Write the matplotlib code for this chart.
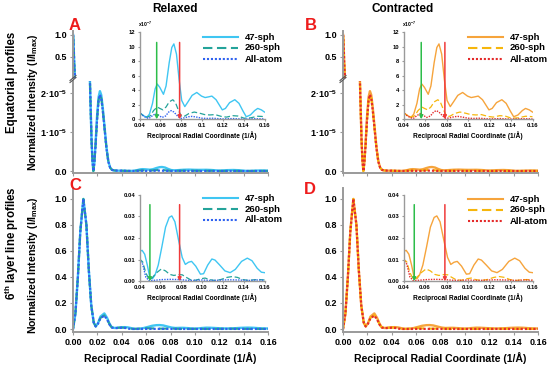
import matplotlib
matplotlib.use('Agg')
import matplotlib.pyplot as plt
from matplotlib.lines import Line2D

plt.rcParams['font.family'] = ['Liberation Sans', 'DejaVu Sans']
plt.rcParams['font.weight'] = 'bold'
plt.rcParams['mathtext.fontset'] = 'custom'
plt.rcParams['mathtext.rm'] = 'Liberation Sans:bold'
plt.rcParams['mathtext.it'] = 'Liberation Sans:bold'
plt.rcParams['mathtext.bf'] = 'Liberation Sans:bold'

# ---------------- data ----------------
series_names = ['47-sph', '260-sph', 'All-atom']

# Equatorial profile, low-q part (absolute normalized intensity)
eq_low_x = [0.000, 0.002, 0.004, 0.006, 0.008, 0.010, 0.012, 0.013, 0.0135, 0.0139,
            0.0145, 0.0152, 0.0160, 0.0167, 0.0175, 0.0185, 0.0197, 0.0210, 0.0221,
            0.0232, 0.0245, 0.0260, 0.0275, 0.0290, 0.0305, 0.0320, 0.0340, 0.0370]
eq_low_47 = [1.0, 0.8, 0.45, 0.17, 0.04, 5e-3, 4e-4, 1.2e-4, 6e-5, 2.3e-5,
             1.6e-5, 8e-6, 2.5e-6, 0.0, 2e-6, 7e-6, 1.4e-5, 1.9e-5, 2.05e-5,
             1.95e-5, 1.6e-5, 1.1e-5, 6e-6, 2.5e-6, 9e-7, 3e-7, 1.5e-7, 1.0e-7]
eq_low_260 = [1.0, 0.8, 0.45, 0.17, 0.04, 5e-3, 4e-4, 1.2e-4, 6e-5, 2.3e-5,
              1.6e-5, 8e-6, 2.5e-6, 0.0, 2e-6, 6.5e-6, 1.3e-5, 1.82e-5, 1.96e-5,
              1.87e-5, 1.53e-5, 1.05e-5, 5.7e-6, 2.4e-6, 8.5e-7, 3e-7, 1.5e-7, 1.0e-7]
eq_low_aa = [1.0, 0.8, 0.45, 0.17, 0.04, 5e-3, 4e-4, 1.2e-4, 6e-5, 2.3e-5,
             1.6e-5, 8e-6, 2.5e-6, 0.0, 2e-6, 6.5e-6, 1.3e-5, 1.82e-5, 1.96e-5,
             1.87e-5, 1.53e-5, 1.05e-5, 5.7e-6, 2.4e-6, 8.5e-7, 3e-7, 1.5e-7, 1.0e-7]

# Equatorial profile, high-q part (units of 1e-7)
eq_hi_x_47 = [0.040, 0.0415, 0.0445, 0.047, 0.0495, 0.0525, 0.055, 0.057, 0.0595, 0.063,
              0.0655, 0.0685, 0.071, 0.073, 0.0755, 0.078, 0.0805, 0.0835, 0.0865, 0.0905,
              0.095, 0.0995, 0.103, 0.1065, 0.1095, 0.1135, 0.1195, 0.1225, 0.1265, 0.1315,
              0.1355, 0.1395, 0.1425, 0.1465, 0.1505, 0.1535, 0.157, 0.160]
eq_hi_y_47 = [0.92, 0.75, 0.45, 0.28, 0.7, 2.2, 4.2, 4.87, 4.4, 3.45,
              4.6, 7.8, 9.9, 10.4, 9.0, 5.5, 2.6, 1.75, 2.4, 3.3,
              3.7, 3.2, 3.0, 3.1, 3.2, 2.7, 1.3, 1.5, 2.3, 2.7,
              2.2, 1.1, 0.35, 0.6, 1.2, 1.5, 1.3, 1.0]
eq_hi_x_260 = [0.040, 0.0415, 0.0445, 0.0475, 0.0505, 0.0535, 0.057, 0.0595, 0.0625, 0.0655,
               0.0685, 0.072, 0.0745, 0.0775, 0.0805, 0.0835, 0.0875, 0.0925, 0.0975, 0.1025,
               0.1075, 0.1125, 0.1185, 0.1235, 0.1295, 0.1345, 0.1405, 0.1465, 0.1535, 0.157, 0.160]
eq_hi_y_260 = [0.95, 0.75, 0.4, 0.3, 0.5, 1.2, 1.7, 1.5, 1.3, 1.7,
               2.4, 2.7, 2.3, 1.2, 0.35, 0.45, 0.8, 1.0, 0.85, 0.65,
               0.6, 0.65, 0.4, 0.3, 0.5, 0.45, 0.15, 0.2, 0.42, 0.4, 0.35]
eq_hi_x_aa = [0.040, 0.0425, 0.046, 0.049, 0.052, 0.0555, 0.058, 0.0615, 0.065, 0.068,
              0.0705, 0.073, 0.0765, 0.0795, 0.083, 0.087, 0.0905, 0.095, 0.100, 0.105,
              0.110, 0.115, 0.120, 0.125, 0.130, 0.135, 0.140, 0.145, 0.150, 0.155, 0.160]
eq_hi_y_aa = [0.9, 0.6, 0.25, 0.1, 0.45, 0.8, 0.6, 0.25, 0.45, 1.0,
              1.2, 1.0, 0.45, 0.12, 0.2, 0.35, 0.4, 0.3, 0.15, 0.12,
              0.15, 0.1, 0.05, 0.08, 0.1, 0.06, 0.03, 0.05, 0.08, 0.07, 0.05]

# 6th layer line profile, low-q part
l6_low_x = [0.000, 0.002, 0.004, 0.006, 0.0085, 0.011, 0.013, 0.015, 0.017, 0.0186,
            0.0205, 0.0225, 0.0257, 0.028, 0.030, 0.0317, 0.034, 0.037]
l6_low_47 = [0.0, 0.12, 0.40, 0.75, 1.0, 0.80, 0.45, 0.18, 0.05, 0.02,
             0.045, 0.095, 0.12, 0.085, 0.04, 0.015, 0.008, 0.011]
l6_low_260 = [0.0, 0.12, 0.40, 0.75, 1.0, 0.80, 0.45, 0.18, 0.05, 0.02,
              0.04, 0.085, 0.105, 0.075, 0.035, 0.013, 0.007, 0.009]
l6_low_aa = [0.0, 0.12, 0.40, 0.75, 1.0, 0.80, 0.45, 0.18, 0.05, 0.02,
             0.04, 0.083, 0.103, 0.073, 0.034, 0.012, 0.006, 0.008]

# 6th layer line profile, high-q part
l6_hi_x_47 = [0.040, 0.0425, 0.045, 0.0475, 0.050, 0.0525, 0.055, 0.058, 0.0615, 0.065,
              0.0685, 0.071, 0.074, 0.0775, 0.081, 0.084, 0.087, 0.090, 0.094, 0.0985,
              0.1015, 0.1055, 0.1095, 0.1125, 0.117, 0.122, 0.127, 0.132, 0.138, 0.1435,
              0.148, 0.153, 0.157, 0.160]
l6_hi_y_47 = [0.0138, 0.0143, 0.0125, 0.0075, 0.0015, 0.0012, 0.003, 0.0075, 0.016, 0.025,
              0.0295, 0.0302, 0.0275, 0.019, 0.011, 0.0078, 0.0088, 0.0092, 0.007, 0.0033,
              0.0035, 0.0075, 0.0103, 0.0098, 0.0075, 0.0048, 0.0040, 0.0055, 0.0092, 0.0107,
              0.0095, 0.006, 0.0042, 0.0040]
l6_hi_x_260 = [0.040, 0.043, 0.046, 0.049, 0.052, 0.056, 0.061, 0.065, 0.069, 0.073,
               0.077, 0.081, 0.085, 0.089, 0.094, 0.099, 0.103, 0.107, 0.112, 0.118,
               0.124, 0.129, 0.134, 0.139, 0.145, 0.150, 0.155, 0.160]
l6_hi_y_260 = [0.0103, 0.009, 0.004, 0.001, 0.0015, 0.0038, 0.0057, 0.0048, 0.0032, 0.0027,
               0.0031, 0.003, 0.0018, 0.0007, 0.0005, 0.0012, 0.0015, 0.0008, 0.0004, 0.0008,
               0.0018, 0.0022, 0.0018, 0.0008, 0.0004, 0.0007, 0.0008, 0.0006]
l6_hi_x_aa = [0.040, 0.043, 0.046, 0.049, 0.055, 0.062, 0.070, 0.078, 0.085, 0.092,
              0.100, 0.108, 0.116, 0.125, 0.135, 0.145, 0.152, 0.160]
l6_hi_y_aa = [0.0098, 0.008, 0.002, 0.0003, 0.0005, 0.0008, 0.0009, 0.0008, 0.0005, 0.0004,
              0.0006, 0.0004, 0.0005, 0.0007, 0.0006, 0.0004, 0.0006, 0.0005]

# arrow positions (1/Å)
eq_arrows = [0.0565, 0.0785]
l6_arrows = [0.050, 0.0785]

eq_yticks_top = [0.5, 1.0]
eq_yticks_low = [0.0, 1e-5, 2e-5]
eq_yticklabels_low = ['0.0', r'1·10$^{-5}$', r'2·10$^{-5}$']
main_xticks = [0.00, 0.02, 0.04, 0.06, 0.08, 0.10, 0.12, 0.14, 0.16]
main_xticklabels = ['0.00', '0.02', '0.04', '0.06', '0.08', '0.10', '0.12', '0.14', '0.16']
l6_yticks = [0.0, 0.2, 0.4, 0.6, 0.8, 1.0]
inset_xticks = [0.04, 0.06, 0.08, 0.10, 0.12, 0.14, 0.16]
inset_eq_xticklabels = ['0.04', '0.06', '0.08', '0.1', '0.12', '0.14', '0.16']
inset_l6_xticklabels = ['0.04', '0.06', '0.08', '0.10', '0.12', '0.14', '0.16']
inset_eq_yticks = [0, 2, 4, 6, 8, 10, 12]
inset_l6_yticks = [0.00, 0.01, 0.02, 0.03, 0.04]

relaxed_colors = ['#3fc6f2', '#24a39a', '#2f62f0']
contracted_colors = ['#f6a43c', '#f6b60c', '#e42a2a']
styles = ['-', (0, (4.5, 2.2)), (0, (1, 0.9))]

# ---------------- build series ----------------
def join(lx, ly, hx, hy, scale):
    return lx + hx, ly + [v * scale for v in hy]

eq_series = [join(eq_low_x, eq_low_47, eq_hi_x_47, eq_hi_y_47, 1e-7),
             join(eq_low_x, eq_low_260, eq_hi_x_260, eq_hi_y_260, 1e-7),
             join(eq_low_x, eq_low_aa, eq_hi_x_aa, eq_hi_y_aa, 1e-7)]
l6_series = [join(l6_low_x, l6_low_47, l6_hi_x_47, l6_hi_y_47, 1.0),
             join(l6_low_x, l6_low_260, l6_hi_x_260, l6_hi_y_260, 1.0),
             join(l6_low_x, l6_low_aa, l6_hi_x_aa, l6_hi_y_aa, 1.0)]

# ---------------- figure ----------------
W, H = 550, 366
fig = plt.figure(figsize=(5.5, 3.66), dpi=100)
GRAY = '#9a9a9a'

def px_axes(l, t, r, b):
    return fig.add_axes([l / W, 1 - b / H, (r - l) / W, (b - t) / H])

def style_axes(ax, lw=1.4, tl=2.5, fs=6.5):
    for s in ['top', 'right']:
        ax.spines[s].set_visible(False)
    for s in ['left', 'bottom']:
        ax.spines[s].set_color(GRAY)
        ax.spines[s].set_linewidth(lw)
    ax.tick_params(direction='out', length=tl, width=0.8, color=GRAY,
                   labelsize=fs, pad=1.5)
    ax.patch.set_alpha(0)

def fig_line(x1, y1, x2, y2, **kw):
    fig.add_artist(Line2D([x1 / W, x2 / W], [1 - y1 / H, 1 - y2 / H],
                          transform=fig.transFigure, **kw))

def fig_text(x, y, s, **kw):
    fig.text(x / W, 1 - y / H, s, **kw)

LW_MAIN = [1.7, 1.5, 1.6]
LW_IN = [1.0, 0.9, 1.0]

def draw_column(x0, colors, inset_l, inset_r, leg_x1, leg_x2, leg_tx, leg_rows_top, leg_rows_bot):
    # ---- equatorial: upper (broken) part ----
    axu = px_axes(x0, 31, x0 + 3, 78)
    style_axes(axu)
    axu.spines['bottom'].set_visible(False)
    for (x, y), c, ls, lw in zip(eq_series, colors, styles, LW_MAIN):
        axu.plot(x, y, color=c, ls=ls, lw=lw)
    axu.set_xlim(-0.0005, 0.012)
    axu.set_ylim(0.023, 1.09)
    axu.set_xticks([])
    axu.set_yticks(eq_yticks_top)
    axu.set_yticklabels(['0.5', '1.0'])
    # break marks
    fig_line(x0 - 3, 80.5, x0 + 3, 75.5, color='#555555', lw=0.8)
    fig_line(x0 - 3, 82.5, x0 + 3, 77.5, color='#555555', lw=0.8)

    # ---- equatorial: lower part ----
    axl = px_axes(x0, 81, x0 + 195, 173)
    style_axes(axl)
    for (x, y), c, ls, lw in zip(eq_series, colors, styles, LW_MAIN):
        axl.plot(x, y, color=c, ls=ls, lw=lw)
    axl.set_xlim(0, 0.16)
    axl.set_ylim(-0.05e-5, 2.31e-5)
    axl.set_xticks(main_xticks)
    axl.set_xticklabels([])
    axl.set_yticks(eq_yticks_low)
    axl.set_yticklabels(eq_yticklabels_low)

    # ---- equatorial inset ----
    ai = px_axes(inset_l, 32.3, inset_r, 119.3)
    style_axes(ai, lw=1.0, tl=1.5, fs=4.2)
    for (x, y), c, ls, lw in zip(eq_series, colors, styles, LW_IN):
        ai.plot(x, [v * 1e7 for v in y], color=c, ls=ls, lw=lw)
    ai.set_xlim(0.04, 0.16)
    ai.set_ylim(0, 12)
    ai.set_xticks(inset_xticks)
    ai.set_xticklabels(inset_eq_xticklabels)
    ai.set_yticks(inset_eq_yticks)
    ai.set_xlabel('Reciprocal Radial Coordinate (1/Å)', fontsize=4.8,
                  fontweight='bold', labelpad=2)
    ai.text(-0.01, 1.04, r'x10$^{-7}$', transform=ai.transAxes, fontsize=3.6,
            ha='left', va='bottom')
    for xa, ca in zip(eq_arrows, ['#2dbd4a', '#f03a3a']):
        ai.annotate('', xy=(xa, 0), xytext=(xa, 10.6),
                    arrowprops=dict(arrowstyle='-|>', color=ca, lw=1.1,
                                    mutation_scale=5, shrinkA=0, shrinkB=0))

    # ---- 6th layer main ----
    a6 = px_axes(x0, 188, x0 + 195, 332)
    style_axes(a6)
    for (x, y), c, ls, lw in zip(l6_series, colors, styles, LW_MAIN):
        a6.plot(x, y, color=c, ls=ls, lw=lw)
    a6.set_xlim(0, 0.16)
    a6.set_ylim(-0.023, 1.084)
    a6.set_xticks(main_xticks)
    a6.set_xticklabels(main_xticklabels)
    a6.set_yticks(l6_yticks)
    a6.set_yticklabels(['0.0', '0.2', '0.4', '0.6', '0.8', '1.0'])
    a6.set_xlabel('Reciprocal Radial Coordinate (1/Å)', fontsize=7.6,
                  fontweight='bold', labelpad=4)

    # ---- 6th layer inset ----
    a6i = px_axes(inset_l, 194.7, inset_r, 281.3)
    style_axes(a6i, lw=1.0, tl=1.5, fs=4.2)
    for (x, y), c, ls, lw in zip(l6_series, colors, styles, LW_IN):
        a6i.plot(x, y, color=c, ls=ls, lw=lw)
    a6i.set_xlim(0.04, 0.16)
    a6i.set_ylim(0, 0.04)
    a6i.set_xticks(inset_xticks)
    a6i.set_xticklabels(inset_l6_xticklabels)
    a6i.set_yticks(inset_l6_yticks)
    a6i.set_yticklabels(['0.00', '0.01', '0.02', '0.03', '0.04'])
    a6i.set_xlabel('Reciprocal Radial Coordinate (1/Å)', fontsize=4.8,
                   fontweight='bold', labelpad=2)
    for xa, ca in zip(l6_arrows, ['#2dbd4a', '#f03a3a']):
        a6i.annotate('', xy=(xa, 0), xytext=(xa, 0.0354),
                     arrowprops=dict(arrowstyle='-|>', color=ca, lw=1.1,
                                     mutation_scale=5, shrinkA=0, shrinkB=0))

    # ---- legends ----
    for rows in (leg_rows_top, leg_rows_bot):
        for yy, name, c, ls in zip(rows, series_names, colors, styles):
            fig_line(leg_x1, yy, leg_x2, yy, color=c, ls=ls, lw=1.5)
            fig_text(leg_tx, yy, name, fontsize=6.8, fontweight='bold',
                     ha='left', va='center')

draw_column(73, relaxed_colors, 139.5, 264.5, 203, 238, 245,
            [37, 48, 59], [198, 209, 220])
draw_column(343, contracted_colors, 403.5, 532.5, 468, 503, 510,
            [37, 48, 59], [199, 210, 221])

# titles and panel letters
fig_text(175, 9.5, 'Relaxed', fontsize=8.5, fontweight='bold', ha='center', va='center')
fig_text(403, 9.5, 'Contracted', fontsize=8.5, fontweight='bold', ha='center', va='center')
for (lx, ly, letter) in [(75, 25, 'A'), (311, 25, 'B'), (75, 185, 'C'), (310, 189, 'D')]:
    fig_text(lx, ly, letter, fontsize=12, fontweight='bold', color='#ee1c1c',
             ha='center', va='center')

# row labels
fig_text(12, 82, 'Equatorial profiles', fontsize=8.3, fontweight='bold',
         rotation=90, ha='center', va='center')
fig_text(33, 102, r'Normalized Intensity (I/I$_{max}$)', fontsize=7.6,
         fontweight='bold', rotation=90, ha='center', va='center')
fig_text(12, 243, r'6$^{th}$ layer line profiles', fontsize=8.3, fontweight='bold',
         rotation=90, ha='center', va='center')
fig_text(33, 265, r'Normalized Intensity (I/I$_{max}$)', fontsize=7.6,
         fontweight='bold', rotation=90, ha='center', va='center')

fig.savefig('out.png', dpi=100)
